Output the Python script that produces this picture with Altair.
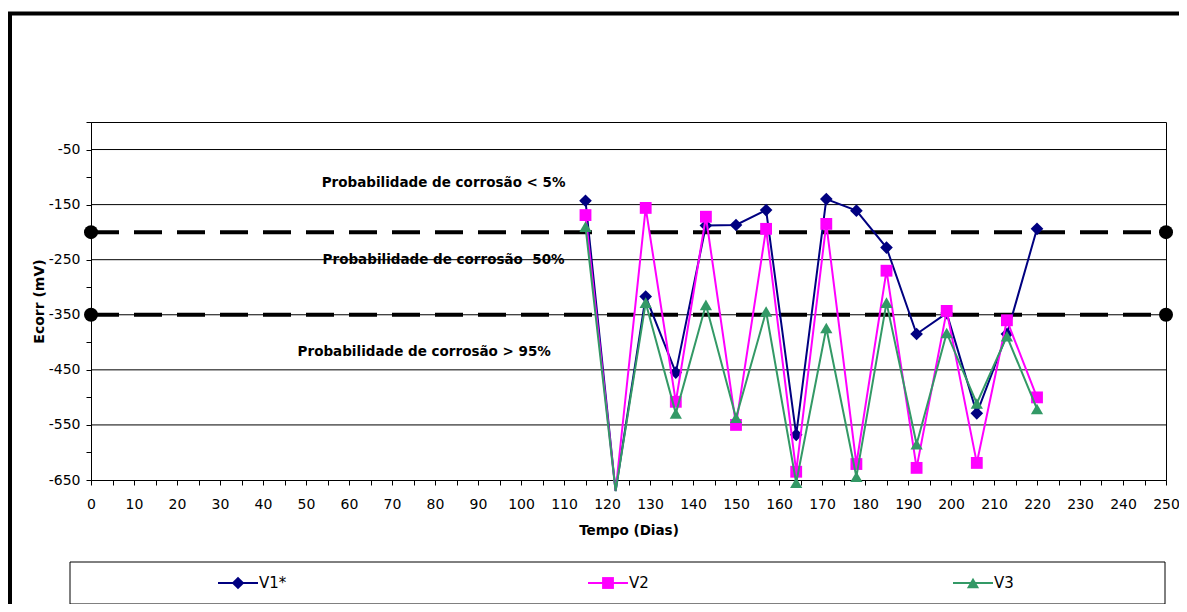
import altair as alt
import pandas as pd

# ---------------- data ----------------
DAYS = [115, 122, 129, 136, 143, 150, 157, 164, 171, 178, 185, 192, 199, 206, 213, 220]
SERIES_NAMES = ["V1*", "V2", "V3"]
V1 = [-143, -670, -317, -455, -188, -187, -160, -568, -140, -161, -228, -385, -347, -529, -385, -194]
V2 = [-169, -670, -156, -508, -172, -550, -194, -635, -185, -621, -270, -628, -343, -619, -360, -500]
V3 = [-190, -670, -328, -529, -332, -537, -344, -655, -374, -644, -328, -585, -383, -511, -389, -521]

THRESHOLDS = [-200, -350]
X_RANGE = [0, 250]
Y_RANGE = [-650, 0]
X_TICKS = list(range(0, 251, 5))
Y_TICKS = list(range(-650, 1, 50))
Y_GRID = list(range(-550, 0, 100))

ANNOT_TEXT = ["Probabilidade de corrosão < 5%",
              "Probabilidade de corrosão\u00a0 50%",
              "Probabilidade de corrosão > 95%"]
ANNOT_X = [82, 82, 77.5]
ANNOT_Y = [-110, -250, -417]

# ---------------- styles ----------------
COLORS = {"V1*": "#000080", "V2": "#FF00FF", "V3": "#339966"}
SHAPES = {"V1*": "diamond", "V2": "square", "V3": "triangle-up"}
SIZES = {"V1*": 160, "V2": 140, "V3": 150}
FONT = "DejaVu Sans"
W, H = 1075, 358

xs = alt.Scale(domain=X_RANGE, nice=False, zero=False)
ys = alt.Scale(domain=Y_RANGE, nice=False, zero=False)

values = {"V1*": V1, "V2": V2, "V3": V3}
series_df = pd.DataFrame(
    [{"day": d, "value": v, "series": s} for s in SERIES_NAMES for d, v in zip(DAYS, values[s])]
)

thr_df = pd.DataFrame(
    [{"x": x, "y": t, "thr": str(t)} for t in THRESHOLDS for x in X_RANGE]
)
grid_df = pd.DataFrame({"y": Y_GRID})
annot_df = pd.DataFrame({"text": ANNOT_TEXT, "x": ANNOT_X, "y": ANNOT_Y})
one = pd.DataFrame({"a": [0]})

x_axis = alt.Axis(
    values=X_TICKS,
    labelExpr="datum.value % 10 == 0 ? '' + datum.value : ''",
    title="Tempo (Dias)", grid=False, tickSize=5, tickColor="black",
    domainColor="black", labelFont=FONT, labelFontSize=14, labelColor="black",
    titleFont=FONT, titleFontSize=13.5, titleFontWeight="bold", titleColor="black",
    labelPadding=12, titlePadding=12, labelFlush=False, labelOverlap=False,
)
y_axis = alt.Axis(
    values=Y_TICKS,
    labelExpr="(datum.value + 50) % 100 == 0 ? '' + datum.value : ''",
    title="Ecorr (mV)", grid=False, tickSize=5, tickColor="black",
    domainColor="black", labelFont=FONT, labelFontSize=14, labelColor="black",
    titleFont=FONT, titleFontSize=14, titleFontWeight="bold", titleColor="black",
    labelPadding=6, titlePadding=2, labelFlush=False, labelOverlap=False,
)


def X(field):
    return alt.X(field, scale=xs, axis=x_axis, title="Tempo (Dias)")


def Y(field):
    return alt.Y(field, scale=ys, axis=y_axis, title="Ecorr (mV)")


thr_lines = alt.Chart(thr_df).mark_line(
    color="black", strokeWidth=4, strokeDash=[28, 15]
).encode(x=X("x:Q"), y=Y("y:Q"), detail="thr:N")

grid = alt.Chart(grid_df).mark_rule(color="black", strokeWidth=1).encode(y=Y("y:Q"))

thr_pts = alt.Chart(thr_df).mark_point(
    shape="circle", filled=True, color="black", size=196, opacity=1
).encode(x=X("x:Q"), y=Y("y:Q"))

annots = alt.Chart(annot_df).mark_text(
    font=FONT, fontSize=13.5, fontWeight="bold", color="black", align="center", baseline="middle"
).encode(x=X("x:Q"), y=Y("y:Q"), text="text:N")

layers = [thr_lines, grid, thr_pts, annots]
for s in SERIES_NAMES:
    base = alt.Chart(series_df).transform_filter(alt.datum.series == s)
    line = base.mark_line(color=COLORS[s], strokeWidth=2).encode(x=X("day:Q"), y=Y("value:Q"))
    pts = base.transform_filter(alt.datum.value >= -660).mark_point(
        shape=SHAPES[s], filled=True, color=COLORS[s], size=SIZES[s], opacity=1
    ).encode(x=X("day:Q"), y=Y("value:Q"))
    layers += [line, pts]

# outer frame of the chart area
frame_left = alt.Chart(one).mark_rule(color="black", strokeWidth=4).encode(
    x=alt.value(-81), y=alt.value(-110), y2=alt.value(520)
)
frame_top = alt.Chart(one).mark_rule(color="black", strokeWidth=4).encode(
    x=alt.value(-83), x2=alt.value(1100), y=alt.value(-108.5)
)
layers += [frame_left, frame_top]

# legend box and entries
legend_box = alt.Chart(one).mark_rect(fill="white", stroke="black", strokeWidth=1).encode(
    x=alt.value(-21), x2=alt.value(1074), y=alt.value(440), y2=alt.value(482)
)
layers.append(legend_box)
LEG_CX = [147, 517, 882]
LEG_Y = 461
for s, cx in zip(SERIES_NAMES, LEG_CX):
    layers.append(alt.Chart(one).mark_rule(color=COLORS[s], strokeWidth=2).encode(
        x=alt.value(cx - 20), x2=alt.value(cx + 20), y=alt.value(LEG_Y)))
    layers.append(alt.Chart(one).mark_point(
        shape=SHAPES[s], filled=True, color=COLORS[s], size=SIZES[s], opacity=1).encode(
        x=alt.value(cx), y=alt.value(LEG_Y)))
    layers.append(alt.Chart(one).mark_text(
        text=s, font=FONT, fontSize=15, color="black", align="left", baseline="middle").encode(
        x=alt.value(cx + 21), y=alt.value(LEG_Y)))

chart = alt.layer(*layers).properties(
    width=W, height=H,
    autosize=alt.AutoSizeParams(type="none"),
    padding={"left": 83, "top": 114, "right": 13, "bottom": 124},
    background="white",
).configure_view(stroke="black", strokeWidth=1)

chart.save("out.html", embed_options={"renderer": "svg", "actions": False})
